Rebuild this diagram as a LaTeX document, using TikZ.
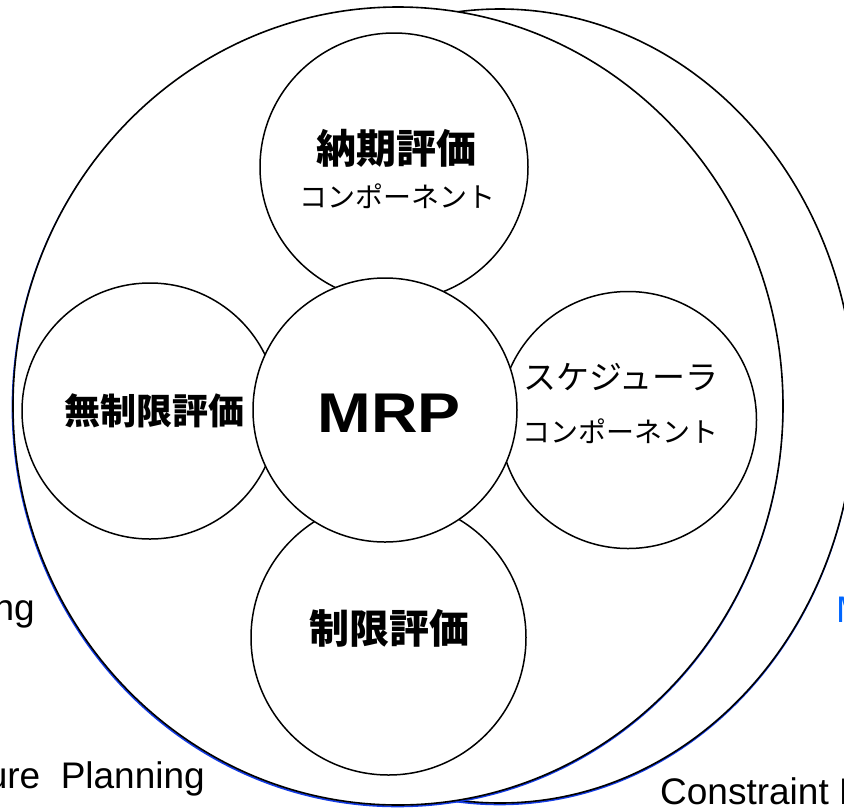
\documentclass[tikz,border=0pt]{standalone}
\usepackage{fontspec}
\setmainfont{Liberation Sans}
\newfontfamily\jpfont{Noto Sans CJK JP}
\begin{document}
\begin{tikzpicture}[x=1pt,y=-1pt,
  ring/.style={draw=black,line width=1.6pt,fill=white},
  shadowring/.style={draw={rgb,255:red,20;green,60;blue,230},line width=1.8pt},
  bubble/.style={draw=black,line width=1.5pt,fill=white,circle,inner sep=0pt},
  jpbold/.style={font=\jpfont\bfseries\fontsize{40}{46}\selectfont,inner sep=0pt},
  jpnorm/.style={font=\jpfont\fontsize{28}{34}\selectfont,inner sep=0pt},
  entext/.style={font=\fontsize{37}{42}\selectfont,inner sep=0pt}]
\useasboundingbox (0,0) rectangle (844,807);
\clip (0,0) rectangle (844,807);
% outer rings
\coordinate (rc) at (500,406);
\coordinate (lc) at (398,406);
\draw[shadowring] ([shift={(-0.5,1.4)}]rc) ellipse [x radius=355pt, y radius=397pt];
\draw[ring] (rc) ellipse [x radius=355pt, y radius=397pt];
\draw[shadowring] ([shift={(-0.5,1.4)}]lc) ellipse [x radius=385pt, y radius=399pt];
\draw[ring] (lc) ellipse [x radius=385pt, y radius=399pt];
% bubbles
\node[bubble,minimum size=268pt] (top) at (394,167) {};
\node[bubble,minimum size=256pt] (left) at (150,411) {};
\node[bubble,minimum size=257pt] (right) at (628,420) {};
\node[bubble,minimum size=275pt] (bottom) at (388.5,637.5) {};
\node[bubble,minimum size=264pt] (mrp) at (385,410) {};
% labels
\node[jpbold] (t1) at (396,148) {納期評価};
\node[jpnorm] (t2) at (397,196) {コンポーネント};
\node[jpbold,font=\jpfont\bfseries\fontsize{36}{42}\selectfont] (l1) at (154,411) {無制限評価};
\node[inner sep=0pt,anchor=base,font=\bfseries\fontsize{56}{60}\selectfont] (m1) at (389,432) {\scalebox{1.15}[1]{MRP}};
\node[jpnorm,font=\jpfont\fontsize{33}{38}\selectfont] (r1) at (621,377) {スケジューラ};
\node[jpnorm] (r2) at (620,431) {コンポーネント};
\node[jpbold] (b1) at (389,628) {制限評価};
% clipped outer texts
\node[entext,anchor=base east] (e1) at (35,620) {ng};
\node[entext,anchor=base east] (e2) at (205,788) {ure\ \ Planning};
\node[entext,anchor=base west] (e3) at (660,804) {Constraint P};
\node[entext,anchor=base west,text={rgb,255:red,0;green,102;blue,255}] (e4) at (836,622) {M};
\end{tikzpicture}
\end{document}
